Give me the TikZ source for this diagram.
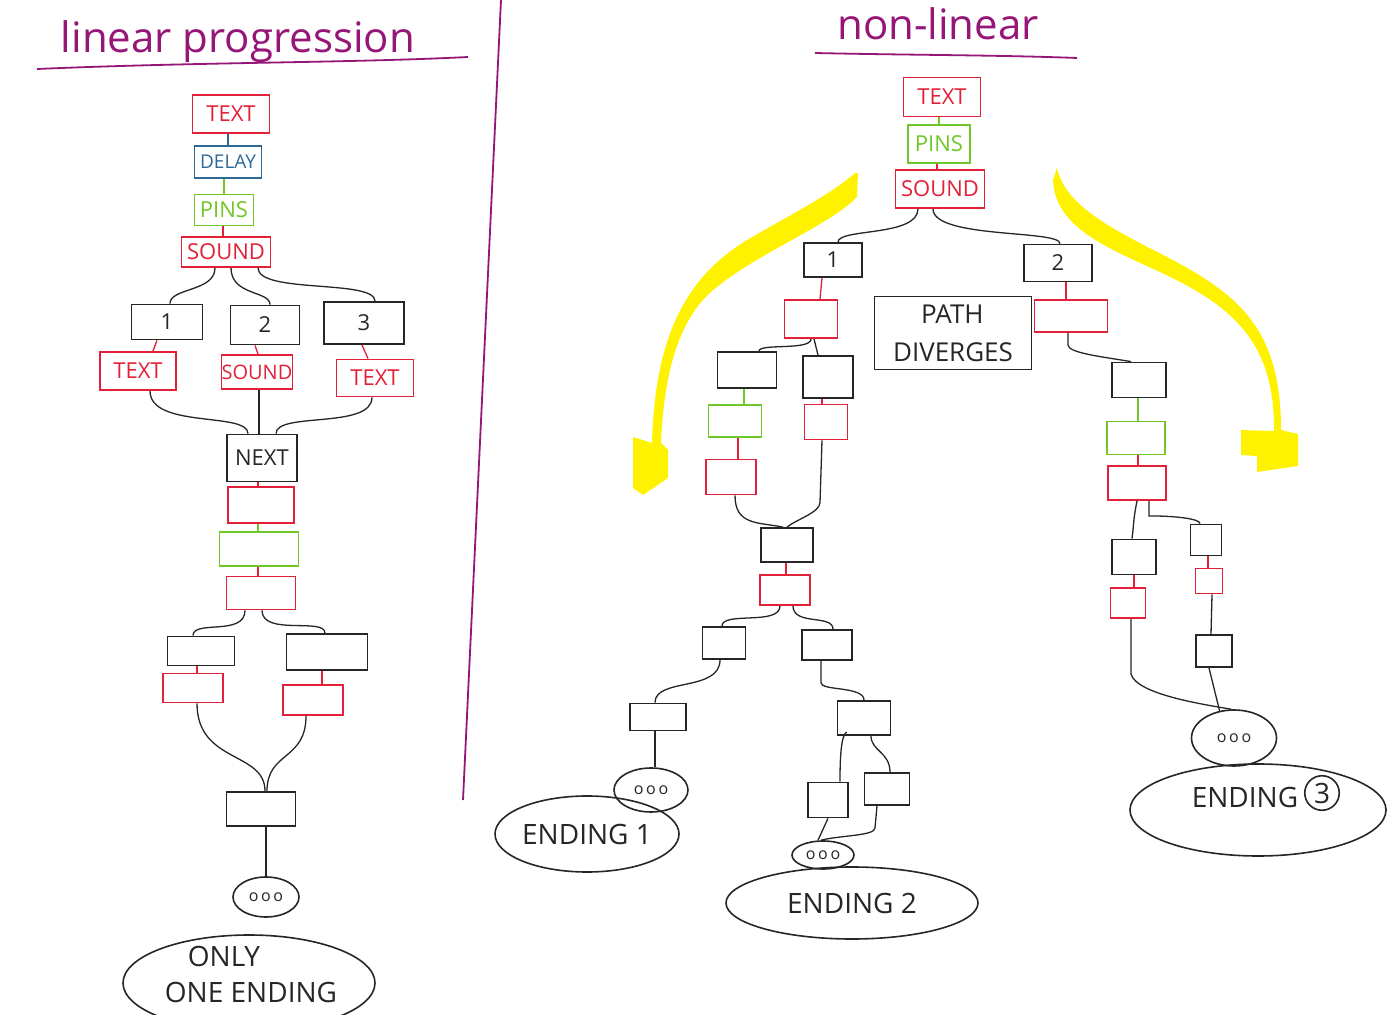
\documentclass[tikz,border=0pt]{standalone}
\usepackage{fontspec}
\setmainfont{Open Sans}
\usetikzlibrary{shapes.geometric,calc}
\definecolor{cred}{RGB}{226,32,56}
\definecolor{cblue}{RGB}{45,105,150}
\definecolor{cgreen}{RGB}{112,200,40}
\definecolor{cpurple}{RGB}{150,22,120}
\definecolor{cyellow}{RGB}{255,242,0}
\definecolor{cblack}{RGB}{38,38,38}
\newcommand\lblfont{\fontsize{11}{13}\selectfont}
\newcommand\finfont{\fontsize{14}{17}\selectfont}
\newcommand\dotfont{\fontsize{8}{9}\selectfont}
\tikzset{
  wh/.style 2 args={minimum width=#1*0.5pt, minimum height=#2*0.5pt},
  bx/.style={draw=cblack, line width=0.9pt, inner sep=0pt, font=\lblfont, text=cblack},
  rbx/.style={bx, draw=cred, text=cred},
  gbx/.style={bx, draw=cgreen, text=cgreen},
  bbx/.style={bx, draw=cblue, text=cblue},
  oval/.style={ellipse, draw=cblack, line width=0.8pt, inner sep=0pt, text=cblack},
  conn/.style={line width=0.65pt, draw=cblack},
  rconn/.style={line width=0.65pt, draw=cred},
  gconn/.style={line width=0.65pt, draw=cgreen},
  bconn/.style={line width=0.65pt, draw=cblue},
  title/.style={text=cpurple, font=\fontsize{21}{24}\selectfont},
  pline/.style={draw=cpurple, line width=0.9pt}
}
\begin{document}
\begin{tikzpicture}[x=0.5pt,y=-0.5pt]
\fill[white] (0,0) rectangle (1398,1015);
\useasboundingbox (0,0) rectangle (1398,1015);

% ---------- titles and divider ----------
\node[title] (tl) at (238,42) {linear progression};
\node[title] (tr) at (938,24) {non-linear};
\draw[pline] (37,69) .. controls (200,62) and (350,63) .. (468,57);
\draw[pline] (815,53) .. controls (900,55) and (1000,55) .. (1077,58);
\draw[pline] (501,0) -- (463,800);

% ---------- yellow arrows ----------
\fill[cyellow] (855,173) .. controls (830,195) and (790,215) .. (747,240)
  .. controls (690,275) and (655,330) .. (652,443)
  -- (633,437) -- (633,488) -- (643,495) -- (668,478) -- (668,450) -- (661,443)
  .. controls (664,370) and (680,315) .. (717,287)
  .. controls (760,252) and (830,225) .. (857,197) -- (858,173) -- cycle;
\fill[cyellow] (1057,168) .. controls (1065,205) and (1110,228) .. (1167,257)
  .. controls (1240,295) and (1281,330) .. (1281,430)
  -- (1298,434) -- (1298,466) -- (1257,472) -- (1257,456) -- (1241,455) -- (1241,430) -- (1274,431)
  .. controls (1275,340) and (1230,305) .. (1160,272)
  .. controls (1100,245) and (1055,225) .. (1053,180) -- cycle;

% ---------- left: linear progression ----------
\node[rbx, wh={77}{38}] (lt1) at (231,114) {TEXT};
\node[bbx, wh={67}{32}, font=\fontsize{9.5}{11}\selectfont] (ldelay) at (228,162) {DELAY};
\node[gbx, wh={59}{31}] (lpins) at (224,210) {PINS};
\node[rbx, wh={89}{30}] (lsnd) at (226,252) {SOUND};
\node[bx, wh={71}{35}] (l1) at (167,322) {1};
\node[bx, wh={69}{39}] (l2) at (265,325) {2};
\node[bx, wh={80}{42}] (l3) at (364,323) {3};
\node[rbx, wh={76}{38}] (lt2) at (138,371) {TEXT};
\node[rbx, wh={71}{34}, font=\fontsize{10}{12}\selectfont] (ls2) at (257,372) {SOUND};
\node[rbx, wh={77}{37}] (lt3) at (375,378) {TEXT};
\node[bx, wh={70}{47}] (lnext) at (262,458) {NEXT};
\node[rbx, wh={66}{36}] (lr1) at (261,505) {};
\node[gbx, wh={79}{34}] (lg1) at (259,549) {};
\node[rbx, wh={69}{33}] (lr2) at (261,593) {};
\node[bx, wh={67}{29}] (lb1) at (201,651) {};
\node[bx, wh={81}{36}] (lb2) at (327,652) {};
\node[rbx, wh={60}{29}] (lr3) at (193,688) {};
\node[rbx, wh={60}{30}] (lr4) at (313,700) {};
\node[bx, wh={69}{34}] (lb3) at (261,809) {};
\node[oval, wh={66}{40}, font=\dotfont] (lend) at (266,897) {o\,o\,o};
\node[oval, wh={252}{96}] (lfinal) at (249,983) {};
\node[font=\finfont, text=cblack, align=center, inner sep=0pt] (lfinalt) at (251,974) {ONLY\hspace*{27pt}\\[1pt]ONE ENDING};

\draw[bconn] (lt1.south -| ldelay) -- (ldelay.north);
\draw[gconn] (ldelay.south -| lpins) -- (lpins.north);
\draw[rconn] (lpins.south -| lsnd) ++(-3,0) -- ($(lsnd.north)+(-3,0)$);
\draw[conn] ($(lsnd.south)+(-11,0)$) .. controls +(0,24) and +(0,-16) .. ($(l1.north)+(3,0)$);
\draw[conn] ($(lsnd.south)+(5,0)$) .. controls +(0,28) and +(0,-14) .. ($(l2.north)+(5,0)$);
\draw[conn] ($(lsnd.south)+(32,0)$) .. controls +(0,26) and +(0,-22) .. ($(l3.north)+(11,0)$);
\draw[rconn] ($(l1.south)+(-10,0)$) -- ($(lt2.north)+(15,0)$);
\draw[rconn] ($(l2.south)+(-10,0)$) -- ($(ls2.north)+(1,0)$);
\draw[rconn] ($(l3.south)+(-2,0)$) -- ($(lt3.north)+(-7,0)$);
\draw[conn] ($(lt2.south)+(12,0)$) .. controls +(0,38) and +(0,-22) .. ($(lnext.north)+(-14,0)$);
\draw[conn] ($(ls2.south)+(2,0)$) -- ($(lnext.north)+(-3,0)$);
\draw[conn] ($(lt3.south)+(-3,0)$) .. controls +(0,32) and +(0,-22) .. ($(lnext.north)+(14,0)$);
\draw[rconn] ($(lnext.south)+(-4,0)$) -- ($(lr1.north)+(-3,0)$);
\draw[gconn] ($(lr1.south)+(-3,0)$) -- ($(lg1.north)+(-1,0)$);
\draw[rconn] ($(lg1.south)+(-1,0)$) -- ($(lr2.north)+(-3,0)$);
\draw[conn] ($(lr2.south)+(-16,0)$) .. controls +(0,26) and +(0,-16) .. ($(lb1.north)+(-8,0)$);
\draw[conn] ($(lr2.south)+(1,0)$) .. controls +(0,26) and +(0,-16) .. ($(lb2.north)+(-2,0)$);
\draw[rconn] ($(lb1.south)+(-4,0)$) -- ($(lr3.north)+(4,0)$);
\draw[rconn] ($(lb2.south)+(-5,0)$) -- ($(lr4.north)+(9,0)$);
\draw[conn] ($(lr3.south)+(4,0)$) .. controls +(0,60) and +(0,-40) .. ($(lb3.north)+(4,0)$);
\draw[conn] ($(lr4.south)+(-7,0)$) .. controls +(0,45) and +(0,-40) .. ($(lb3.north)+(6,0)$);
\draw[conn] ($(lb3.south)+(5,0)$) -- (lend.north);

% ---------- right: non-linear ----------
\node[rbx, wh={77}{39}] (rt) at (942,97) {TEXT};
\node[gbx, wh={62}{38}] (rp) at (939,144) {PINS};
\node[rbx, wh={89}{38}] (rs) at (940,189) {SOUND};
\node[bx, wh={58}{34}] (r1) at (833,260) {1};
\node[bx, wh={68}{37}] (r2) at (1058,263) {2};
\node[rbx, wh={53}{38}] (rA) at (811,319) {};
\node[bx, wh={157}{73}, font=\fontsize{13}{19}\selectfont, align=left] (rpd) at (953,333) {\hspace*{14pt}PATH\\DIVERGES};
\node[rbx, wh={73}{32}] (rB) at (1071,316) {};
\node[bx, wh={59}{36}] (rC) at (747,370) {};
\node[bx, wh={50}{42}] (rD) at (828,377) {};
\node[gbx, wh={53}{32}] (rE) at (735,421) {};
\node[rbx, wh={50}{35}] (rF) at (731,477) {};
\node[rbx, wh={43}{35}] (rG) at (826,422) {};
\node[bx, wh={52}{34}] (rH) at (787,545) {};
\node[rbx, wh={50}{30}] (rI) at (785,590) {};
\node[bx, wh={43}{32}] (rJ) at (724,643) {};
\node[bx, wh={50}{30}] (rK) at (827,645) {};
\node[bx, wh={56}{27}] (rL) at (658,717) {};
\node[oval, wh={74}{44}, font=\dotfont] (rend1) at (651,790) {o\,o\,o};
\node[oval, wh={184}{76}, font=\finfont] (rfin1) at (587,834) {ENDING 1};
\node[bx, wh={53}{34}] (rM) at (864,718) {};
\node[bx, wh={40}{35}] (rN) at (828,800) {};
\node[bx, wh={45}{32}] (rO) at (887,789) {};
\node[oval, wh={62}{28}, font=\dotfont] (rend2) at (823,855) {o\,o\,o};
\node[oval, wh={252}{72}, font=\finfont] (rfin2) at (852,903) {ENDING 2};
\node[bx, wh={54}{35}] (rP) at (1139,380) {};
\node[gbx, wh={58}{33}] (rQ) at (1136,438) {};
\node[rbx, wh={58}{34}] (rR) at (1137,483) {};
\node[bx, wh={44}{35}] (rS) at (1134,557) {};
\node[rbx, wh={35}{30}] (rT) at (1128,603) {};
\node[bx, wh={31}{31}] (rU) at (1206,540) {};
\node[rbx, wh={27}{25}] (rV) at (1209,581) {};
\node[bx, wh={36}{32}] (rW) at (1214,651) {};
\node[oval, wh={85}{56}, font=\dotfont] (rend3) at (1234,738) {o\,o\,o};
\node[oval, wh={256}{92}] (rfin3) at (1258,810) {};
\node[font=\finfont, text=cblack] (rfin3t) at (1245,797) {ENDING};
\node[circle, draw=cblack, line width=0.8pt, inner sep=1.5pt, font=\finfont, text=cblack] (rfin3n) at (1322,793) {3};

\draw[gconn] (rt.south -| rp) -- (rp.north);
\draw[rconn] ($(rp.south)+(-2,0)$) -- ($(rs.north)+(-3,0)$);
\draw[conn] ($(rs.south)+(-22,0)$) .. controls +(0,28) and +(0,-14) .. ($(r1.north)+(5,0)$);
\draw[conn] ($(rs.south)+(-7,0)$) .. controls +(0,30) and +(0,-14) .. ($(r2.north)+(2,0)$);
\draw[rconn] ($(r1.south)+(-11,0)$) -- ($(rA.north)+(9,0)$);
\draw[rconn] ($(r2.south)+(8,0)$) -- ($(rB.north)+(-5,0)$);
\draw[conn] (rA.south) .. controls +(0,12) and +(0,-8) .. ($(rC.north)+(12,0)$);
\draw[conn] ($(rA.south)+(3,0)$) -- ($(rD.north)+(-10,0)$);
\draw[gconn] ($(rC.south)+(-3,0)$) -- ($(rE.north)+(9,0)$);
\draw[rconn] ($(rE.south)+(3,0)$) -- ($(rF.north)+(7,0)$);
\draw[rconn] ($(rD.south)+(-6,0)$) -- ($(rG.north)+(-4,0)$);
\draw[conn] ($(rF.south)+(4,0)$) .. controls +(0,30) and +(-25,-5) .. ($(rH.north)+(-4,0)$);
\draw[conn] ($(rG.south)+(-4,0)$) -- ++(-2,62) .. controls +(0,10) and +(10,-8) .. (rH.north);
\draw[rconn] ($(rH.south)+(-1,0)$) -- ($(rI.north)+(1,0)$);
\draw[conn] ($(rI.south)+(-5,0)$) .. controls +(0,20) and +(0,-15) .. ($(rJ.north)+(-2,0)$);
\draw[conn] ($(rI.south)+(8,0)$) .. controls +(0,20) and +(0,-15) .. ($(rK.north)+(6,0)$);
\draw[conn] ($(rJ.south)+(-4,0)$) .. controls +(0,32) and +(0,-25) .. ($(rL.north)+(-3,0)$);
\draw[conn] ($(rL.south)+(-3,0)$) -- ($(rend1.north)+(4,0)$);
\draw[conn] ($(rK.south)+(-6,0)$) -- ++(0,22) .. controls +(0,8) and +(0,-14) .. (rM.north);
\draw[conn] ($(rM.south west)+(10,-4)$) .. controls +(-6,4) and +(0,-20) .. ($(rN.north)+(12,0)$);
\draw[conn] ($(rM.south)+(7,0)$) .. controls +(0,15) and +(0,-20) .. ($(rO.north)+(3,0)$);
\draw[conn] (rN.south) -- ($(rend2.north)+(-5,0)$);
\draw[conn] ($(rO.south)+(-10,0)$) -- ++(-2,22) .. controls +(0,8) and +(20,-5) .. ($(rend2.north)+(-2,0)$);
\draw[conn] ($(rB.south)+(-3,0)$) -- ++(0,12) .. controls +(0,8) and +(-30,-5) .. ($(rP.north)+(-8,0)$);
\draw[gconn] ($(rP.south)+(-1,0)$) -- ($(rQ.north)+(2,0)$);
\draw[rconn] ($(rQ.south)+(2,0)$) -- ($(rR.north)+(1,0)$);
\draw[conn] (rR.south) .. controls +(-4,20) and +(2,-15) .. ($(rS.north)+(-2,0)$);
\draw[conn] ($(rR.south)+(12,0)$) -- ++(0,15) .. controls +(25,0) and +(0,-5) .. ($(rU.north)+(-6,0)$);
\draw[rconn] ($(rS.south)+(0,0)$) -- ($(rT.north)+(6,0)$);
\draw[rconn] ($(rU.south)+(2,0)$) -- ($(rV.north)+(-1,0)$);
\draw[conn] ($(rV.south)+(3,0)$) -- ($(rW.north)+(-3,0)$);
\draw[conn] ($(rW.south)+(-5,0)$) -- (rend3.118);
\draw[conn] ($(rT.south)+(3,0)$) -- ++(0,55) .. controls +(5,20) and +(-30,-5) .. (rend3.95);
\end{tikzpicture}
\end{document}
